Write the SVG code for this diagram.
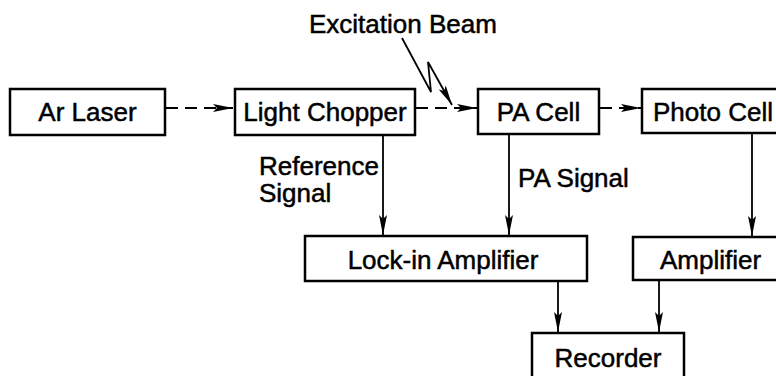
<svg xmlns="http://www.w3.org/2000/svg" width="776" height="376" viewBox="0 0 776 376">
<defs>
<style>
.box{fill:#fff;stroke:#000;stroke-width:2.5}
.t{font-family:"Liberation Sans",Arial,sans-serif;font-size:26px;fill:#000;stroke:#000;stroke-width:0.5}
.c{text-anchor:middle}
.ln{fill:none;stroke:#000;stroke-width:1.8}
.dash{stroke-dasharray:12 7}
</style>
<marker id="ah" markerUnits="userSpaceOnUse" markerWidth="22" markerHeight="10" refX="20" refY="4.5" orient="auto" overflow="visible">
<path d="M0,0.5 L20,4.5 L0,8.5 L4,4.5 z" fill="#000"/>
</marker>
</defs>
<rect width="776" height="376" fill="#fff"/>
<g id="connectors">
<path class="ln dash" d="M166,108 H233" marker-end="url(#ah)"/>
<path class="ln dash" d="M416,108 H477" marker-end="url(#ah)"/>
<path class="ln dash" d="M600,108 H641" marker-end="url(#ah)"/>
<path class="ln" d="M402,38 L431,92 L428,62 L452,105" marker-end="url(#ah)"/>
<path class="ln" d="M383,135 V235" marker-end="url(#ah)"/>
<path class="ln" d="M509,135 V235" marker-end="url(#ah)"/>
<path class="ln" d="M752,133 V236" marker-end="url(#ah)"/>
<path class="ln" d="M558,281 V332" marker-end="url(#ah)"/>
<path class="ln" d="M659,281 V332" marker-end="url(#ah)"/>
</g>
<g id="labels">
<text class="t" x="309" y="33">Excitation Beam</text>
<text class="t" x="259" y="175">Reference</text>
<text class="t" x="259" y="202">Signal</text>
<text class="t" x="518" y="187">PA Signal</text>
</g>
<g id="ar-laser">
<rect class="box" x="10" y="89" width="155" height="46"/>
<text class="t c" x="87.5" y="121">Ar Laser</text>
</g>
<g id="light-chopper">
<rect class="box" x="235" y="89" width="180" height="46"/>
<text class="t c" x="325" y="121">Light Chopper</text>
</g>
<g id="pa-cell">
<rect class="box" x="478" y="89" width="121" height="45"/>
<text class="t c" x="538.5" y="121">PA Cell</text>
</g>
<g id="photo-cell">
<rect class="box" x="642" y="89" width="160" height="44"/>
<text class="t" x="653" y="121">Photo Cell</text>
</g>
<g id="lock-in-amplifier">
<rect class="box" x="305" y="236" width="282" height="45"/>
<text class="t c" x="443" y="269">Lock-in Amplifier</text>
</g>
<g id="amplifier">
<rect class="box" x="633" y="237" width="170" height="43"/>
<text class="t" x="660" y="269">Amplifier</text>
</g>
<g id="recorder">
<rect class="box" x="532" y="333" width="152" height="60"/>
<text class="t c" x="608" y="367">Recorder</text>
</g>
</svg>
